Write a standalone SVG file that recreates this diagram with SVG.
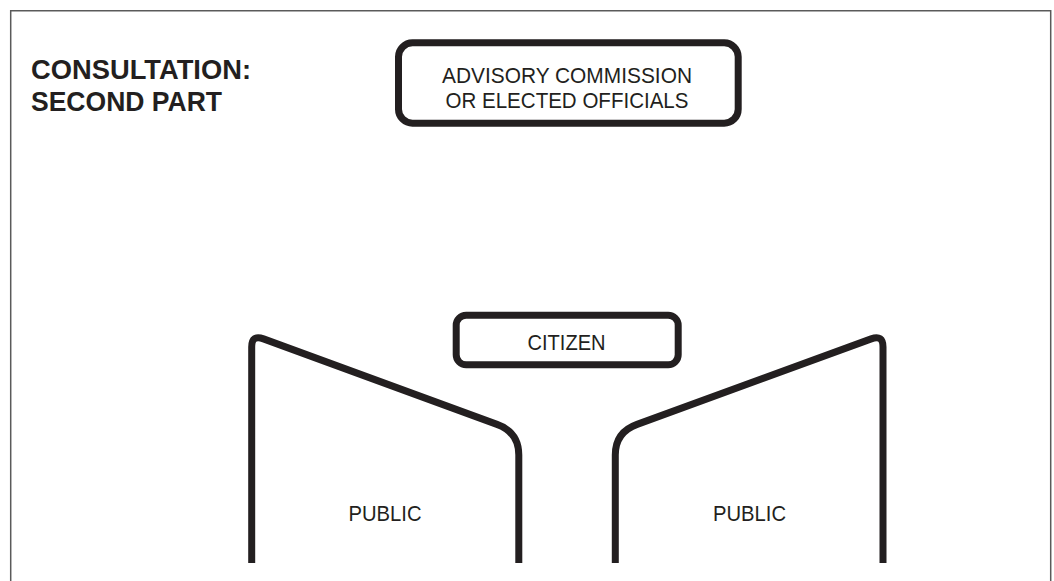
<svg xmlns="http://www.w3.org/2000/svg" width="1054" height="581" viewBox="0 0 1054 581">
  <style>
    .frame { fill: none; stroke: #5a5a5a; stroke-width: 1.5; }
    .box { fill: none; stroke: #231f20; stroke-width: 7; stroke-linejoin: round; }
    .label { font-family: "Liberation Sans", Arial, sans-serif; font-size: 22.5px; fill: #231f20; text-anchor: middle; }
    .title { font-family: "Liberation Sans", Arial, sans-serif; font-size: 28px; font-weight: bold; fill: #231f20; }
  </style>
  <rect width="1054" height="581" fill="#ffffff"/>

  <!-- page frame (open at the bottom) -->
  <path class="frame" d="M10.7 581 V10.7 H1050.7 V581"/>

  <g id="title">
    <text class="title" x="31" y="79" textLength="220" lengthAdjust="spacingAndGlyphs">CONSULTATION:</text>
    <text class="title" x="31" y="111" textLength="191" lengthAdjust="spacingAndGlyphs">SECOND PART</text>
  </g>

  <g id="advisory">
    <rect class="box" x="398.5" y="42.8" width="339.7" height="80.4" rx="14" ry="14"/>
    <text class="label" x="567" y="83" textLength="250" lengthAdjust="spacingAndGlyphs">ADVISORY COMMISSION</text>
    <text class="label" x="567" y="108" textLength="243" lengthAdjust="spacingAndGlyphs">OR ELECTED OFFICIALS</text>
  </g>

  <g id="citizen">
    <rect class="box" x="456.2" y="315.2" width="222" height="49.6" rx="10" ry="10"/>
    <text class="label" x="566.5" y="349.5" textLength="78" lengthAdjust="spacingAndGlyphs">CITIZEN</text>
  </g>

  <g id="public-left">
    <path class="box" d="M251.7 563 V347 Q251.7 334.5 263.5 338.9 L497 424.4 Q518.8 432.2 518.8 455 V563"/>
    <text class="label" x="385" y="521" textLength="73" lengthAdjust="spacingAndGlyphs">PUBLIC</text>
  </g>

  <g id="public-right">
    <path class="box" d="M883 563 V347 Q883 334.5 871.2 338.9 L637.1 424.4 Q615.3 432.2 615.3 455 V563"/>
    <text class="label" x="749.5" y="521" textLength="73" lengthAdjust="spacingAndGlyphs">PUBLIC</text>
  </g>

  <g id="connectors"/>
</svg>
